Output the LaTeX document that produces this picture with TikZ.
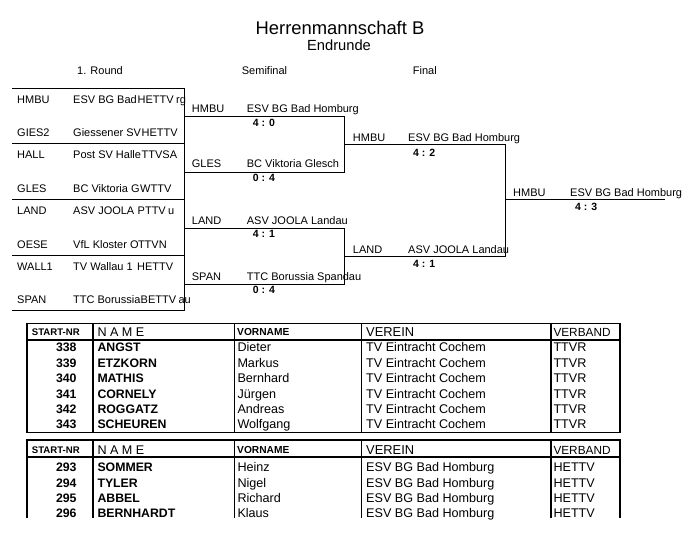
\documentclass[tikz,border=0pt]{standalone}
\usepackage{fontspec}
\setmainfont{Liberation Sans}
\usetikzlibrary{positioning}

\newcommand{\pxfont}[1]{\fontsize{#1}{#1}\selectfont}

\begin{document}
\begin{tikzpicture}[
  x=1pt, y=-1pt,
  txt/.style={anchor=base west, inner sep=0pt, font=\pxfont{11}},
  score/.style={anchor=base west, inner sep=0pt, font=\pxfont{10.5}\bfseries},
  bline/.style={line width=1pt},
  tline/.style={line width=1.6pt},
  hsmall/.style={anchor=base west, inner sep=0pt, font=\pxfont{9.6}\bfseries},
  cell/.style={anchor=base west, inner sep=0pt, font=\pxfont{12.6}},
  cellb/.style={cell, font=\pxfont{12.3}\bfseries},
  num/.style={cellb, anchor=base},
]
\useasboundingbox (0,0) rectangle (693,540);

% title
\node[anchor=base, inner sep=0pt, font=\pxfont{18.4}] (title) at (340,35) {Herrenmannschaft B};
\node[anchor=base, inner sep=0pt, font=\pxfont{14.7}] (subtitle) at (339,51) {Endrunde};
\node[txt] (round1) at (77,74.5) {1. Round};
\node[txt] (semi) at (241.7,75) {Semifinal};
\node[txt] (final) at (412.7,75) {Final};

% bracket lines
\foreach \i in {0,...,4}{
  \coordinate (fr\i) at (12,{88.3+55.6*\i});
  \coordinate (fre\i) at (184,{88.3+55.6*\i});
  \draw[bline] (fr\i) -- (fre\i);
}
\draw[bline] (fre0) -- (fre4);
\foreach \i/\sy in {1/117, 2/172.5, 3/228.3, 4/284}{
  \coordinate (sf\i) at (184,\sy);
  \coordinate (sfe\i) at (344,\sy);
}
\coordinate (fi1) at (344,145);
\coordinate (fi2) at (344,256.5);
\coordinate (fie1) at (505.7,145);
\coordinate (fie2) at (505.7,256.5);
\coordinate (wn) at (505.7,200);
\coordinate (wne) at (665,200);
\draw[bline] (sf1) -- (sfe1) -- (sfe2) -- (sf2);
\draw[bline] (sf3) -- (sfe3) -- (sfe4) -- (sf4);
\draw[bline] (fi1) -- (fie1) -- (fie2) -- (fi2);
\draw[bline] (wn) -- (wne);

% 1. round
\foreach \cd/\cl/\vx/\vb [count=\k from 0] in {HMBU/ESV BG Bad/137.5/HETTV, GIES2/Giessener SV/141.5/HETTV,
    HALL/Post SV Halle/141.5/TTVSA, GLES/BC Viktoria G/140/WTTV, LAND/ASV JOOLA/137.5/PTTV,
    OESE/VfL Kloster O/137.8/TTVN, WALL1/TV Wallau 1/137/HETTV, SPAN/TTC Borussia/140.5/BETTV}{
  \pgfmathsetmacro{\ry}{103.3+55.6*floor(\k/2)+33.5*mod(\k,2)}
  \node[txt] (fc\k) at (17,\ry) {\cd};
  \node[txt] (fn\k) at (73,\ry) {\cl};
  \node[txt] (fv\k) at (\vx,\ry) {\vb};
}
\node[txt, xshift=2pt] (ft0) at (fv0.base east) {rg};
\node[txt, xshift=2pt] (ft4) at (fv4.base east) {u};
\node[txt, xshift=2pt] (ft7) at (fv7.base east) {au};

% semifinal
\node[txt] (s1c) at (191.7,113) {HMBU};
\node[txt] (s1n) at (246.7,113) {ESV BG Bad Homburg};
\node[score] (s1s) at (252.7,126.6) {4 : 0};
\node[txt] (s2c) at (191.7,168) {GLES};
\node[txt] (s2n) at (246.7,168) {BC Viktoria Glesch};
\node[score] (s2s) at (252.7,181.9) {0 : 4};
\node[txt] (s3c) at (191.7,224) {LAND};
\node[txt] (s3n) at (246.7,224) {ASV JOOLA Landau};
\node[score] (s3s) at (252.7,237.9) {4 : 1};
\node[txt] (s4c) at (191.7,280) {SPAN};
\node[txt] (s4n) at (246.7,280) {TTC Borussia Spandau};
\node[score] (s4s) at (252.7,293.9) {0 : 4};

% final
\node[txt] (f1c) at (352.7,141.3) {HMBU};
\node[txt] (f1n) at (408,141.3) {ESV BG Bad Homburg};
\node[score] (f1s) at (413,156.2) {4 : 2};
\node[txt] (f2c) at (352.7,253.3) {LAND};
\node[txt] (f2n) at (408,253.3) {ASV JOOLA Landau};
\node[score] (f2s) at (413,267.9) {4 : 1};

% winner
\node[txt] (wc) at (513,196.7) {HMBU};
\node[txt] (wnm) at (570,196.7) {ESV BG Bad Homburg};
\node[score] (ws) at (575,210.9) {4 : 3};

% tables
\coordinate (t1nw) at (27,323.3);
\coordinate (t1se) at (620,432.3);
\draw[tline] (t1nw) rectangle (t1se);
\draw[tline] (27,340) -- (620,340);
\foreach \cx in {93,234.5,361.5,550.7}
  \draw[tline] (\cx,323.3) -- (\cx,432.3);

\draw[tline] (27,518.3) -- (27,440) -- (620,440) -- (620,518.3);
\draw[tline] (27,457) -- (620,457);
\foreach \cx in {93,234.5,361.5,550.7}
  \draw[tline] (\cx,440) -- (\cx,518.3);

\foreach \hb/\tn in {335.5/a, 453.5/b}{
  \node[hsmall] (\tn-start) at (31.7,\hb) {START-NR};
  \node[cell] (\tn-name) at (97.3,\hb+0.8) {N A M E};
  \node[hsmall, font=\pxfont{10.2}\bfseries] (\tn-vorname) at (237,\hb+0.3) {VORNAME};
  \node[cell, font=\pxfont{12.9}] (\tn-verein) at (366,\hb+0.8) {VEREIN};
  \node[cell, font=\pxfont{11.8}] (\tn-verband) at (553.3,\hb+0.6) {VERBAND};
}

\foreach \nr/\nm/\vn [count=\k from 0] in {338/ANGST/Dieter, 339/ETZKORN/Markus, 340/MATHIS/Bernhard,
    341/CORNELY/Jürgen, 342/ROGGATZ/Andreas, 343/SCHEUREN/Wolfgang}{
  \node[num] (a\k nr) at (66.3,{351.8+15.4*\k}) {\nr};
  \node[cellb] (a\k nm) at (97.3,{351.8+15.4*\k}) {\nm};
  \node[cell] (a\k vn) at (237.3,{351.8+15.4*\k}) {\vn};
  \node[cell] (a\k vr) at (366,{351.8+15.4*\k}) {TV Eintracht Cochem};
  \node[cell] (a\k vb) at (553.3,{351.8+15.4*\k}) {TTVR};
}

\foreach \nr/\nm/\vn [count=\k from 0] in {293/SOMMER/Heinz, 294/TYLER/Nigel, 295/ABBEL/Richard,
    296/BERNHARDT/Klaus}{
  \node[num] (b\k nr) at (66.3,{471.8+15.3*\k}) {\nr};
  \node[cellb] (b\k nm) at (97.3,{471.8+15.3*\k}) {\nm};
  \node[cell] (b\k vn) at (237.3,{471.8+15.3*\k}) {\vn};
  \node[cell] (b\k vr) at (366,{471.8+15.3*\k}) {ESV BG Bad Homburg};
  \node[cell] (b\k vb) at (553.3,{471.8+15.3*\k}) {HETTV};
}
\end{tikzpicture}
\end{document}
